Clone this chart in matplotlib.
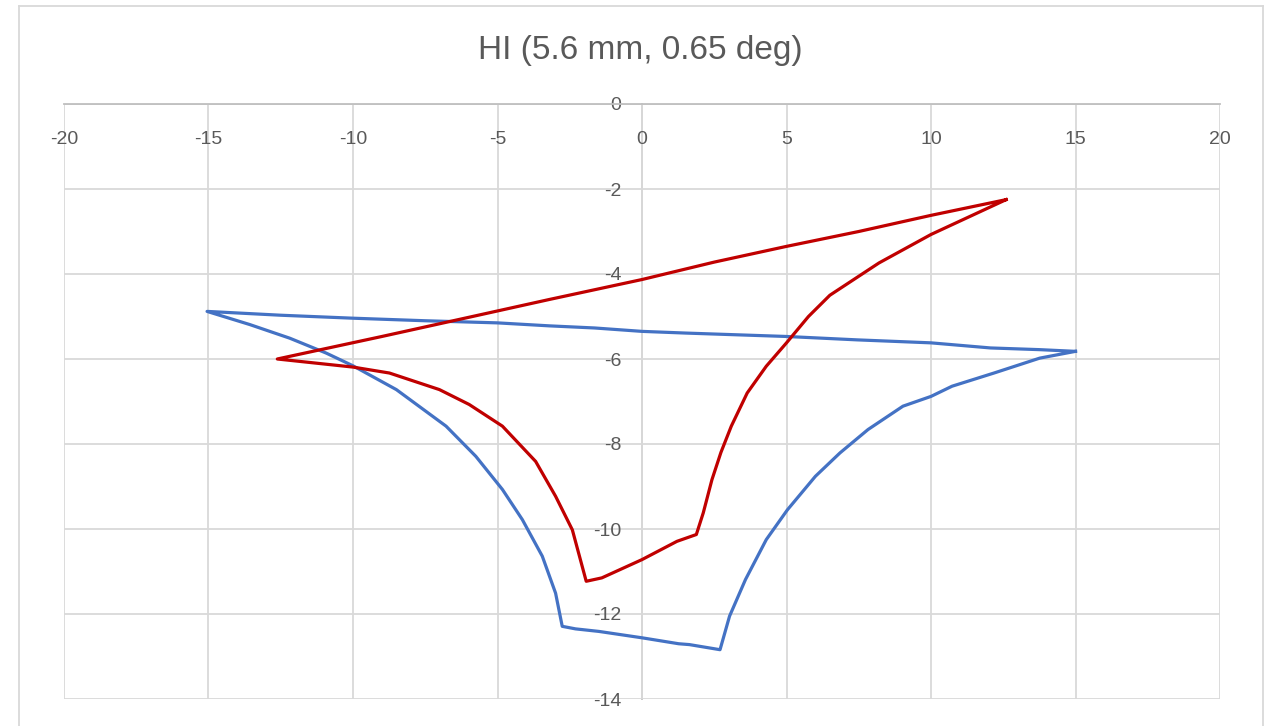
import numpy as np
import matplotlib.pyplot as plt
from matplotlib.lines import Line2D

# blue loop
blue_x = [15.0, 13.76, 12.06, 10.0, 7.45, 5.0, 1.52, 0.0, -1.64, -3.21, -5.0, -7.5, -10.0, -12.5, -15.05,
          -13.57, -12.19, -10.93, -10.0, -8.5, -6.78, -5.75, -4.83, -4.14, -3.45, -2.99, -2.76,
          -2.3, -1.49, 0.0, 1.27, 1.64, 2.7,
          3.03, 3.58, 4.3, 5.03, 6.0, 6.85, 7.82, 9.03, 10.0, 10.73, 12.18, 13.76, 15.0]
blue_y = [-5.82, -5.78, -5.74, -5.62, -5.55, -5.47, -5.39, -5.35, -5.27, -5.22, -5.15, -5.1, -5.04, -4.97, -4.88,
          -5.19, -5.51, -5.86, -6.16, -6.72, -7.58, -8.29, -9.07, -9.78, -10.64, -11.51, -12.29,
          -12.35, -12.41, -12.56, -12.7, -12.72, -12.84,
          -12.05, -11.19, -10.25, -9.55, -8.76, -8.21, -7.66, -7.11, -6.88, -6.64, -6.33, -5.98, -5.82]

# red loop
red_x = [12.6, 10.0, 7.5, 5.0, 2.5, 0.0, -3.21, -6.0, -9.0, -12.62,
         -10.0, -8.74, -7.01, -5.98, -4.83, -3.68, -2.99, -2.41, -1.93,
         -1.39, 0.0, 1.21, 1.88,
         2.12, 2.42, 2.73, 3.09, 3.64, 4.3, 5.0, 5.76, 6.5, 8.2, 10.0, 12.6]
red_y = [-2.25, -2.62, -3.0, -3.35, -3.72, -4.13, -4.6, -5.02, -5.47, -6.0,
         -6.19, -6.33, -6.72, -7.07, -7.58, -8.41, -9.23, -10.02, -11.23,
         -11.15, -10.72, -10.29, -10.13,
         -9.62, -8.84, -8.2, -7.58, -6.8, -6.17, -5.62, -5.0, -4.5, -3.74, -3.07, -2.25]

x_ticks = np.arange(-20, 21, 5)
y_ticks = np.arange(-14, 1, 2)

plt.rcParams['font.family'] = ['Liberation Sans', 'DejaVu Sans']

fig = plt.figure(figsize=(12.76, 7.26), dpi=100)
ax = fig.add_axes([64/1276, 1 - 699/726, (1220-64)/1276, (699-104)/726])

ax.plot(blue_x, blue_y, color="#4472C4", lw=2.3, solid_joinstyle="round")
ax.plot(red_x, red_y, color="#C00000", lw=2.3, solid_joinstyle="round")

ax.set_xlim(-20, 20)
ax.set_ylim(-14, 0)
ax.set_xticks(x_ticks)
ax.set_yticks(y_ticks)
ax.set_xticklabels([str(v) for v in x_ticks])
ax.set_yticklabels([str(v) for v in y_ticks])
ax.grid(True, color="#D9D9D9", lw=1.3)
ax.set_axisbelow(True)

for s in ["bottom", "right"]:
    ax.spines[s].set_visible(False)
ax.spines["left"].set_position(("data", 0))
ax.spines["left"].set_color("#BFBFBF")
ax.spines["left"].set_linewidth(1.3)
ax.spines["top"].set_color("#BFBFBF")
ax.spines["top"].set_linewidth(1.3)
ax.spines["left"].set_zorder(0.5)

ax.xaxis.set_ticks_position("top")
ax.tick_params(axis="x", length=0, pad=-32, labelsize=14, labelcolor="#595959")
ax.tick_params(axis="y", length=0, pad=15, labelsize=14, labelcolor="#595959")

fig.text(0.502, 1 - 50/726, "HI (5.6 mm, 0.65 deg)", ha="center", va="center",
         fontsize=24, color="#595959")

# outer chart border
bc = "#D9D9D9"
fig.add_artist(Line2D([19/1276, 19/1276], [0, 1 - 6/726], transform=fig.transFigure, color=bc, lw=1.3))
fig.add_artist(Line2D([1263/1276, 1263/1276], [0, 1 - 6/726], transform=fig.transFigure, color=bc, lw=1.3))
fig.add_artist(Line2D([19/1276, 1263/1276], [1 - 6/726, 1 - 6/726], transform=fig.transFigure, color=bc, lw=1.3))

fig.savefig("out.png", dpi=100)
